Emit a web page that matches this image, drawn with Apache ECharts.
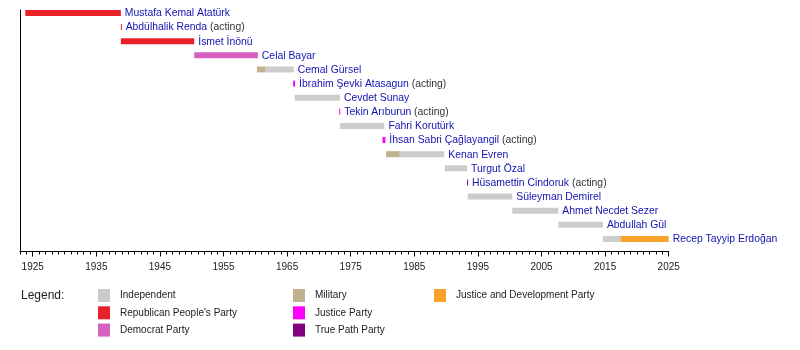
<!DOCTYPE html>
<html>
<head>
<meta charset="utf-8">
<script src="https://cdn.jsdelivr.net/npm/echarts@6/dist/echarts.min.js"></script>
<style>
html,body{margin:0;padding:0;background:#fff;}
#chart{width:800px;height:350px;}
</style>
</head>
<body>
<div id="chart"></div>
<script>
// ---- data ----
const presidents = ["Mustafa Kemal Atatürk","Abdülhalik Renda","İsmet İnönü","Celal Bayar","Cemal Gürsel","İbrahim Şevki Atasagun","Cevdet Sunay","Tekin Arıburun","Fahri Korutürk","İhsan Sabri Çağlayangil","Kenan Evren","Turgut Özal","Hüsamettin Cindoruk","Süleyman Demirel","Ahmet Necdet Sezer","Abdullah Gül","Recep Tayyip Erdoğan"];
const acting = [0,1,0,0,0,1,0,1,0,1,0,0,1,0,0,0,0];
// [row, start year, end year]
const independent = [[4,1961.6,1966.05],[6,1966.2,1973.3],[8,1973.3,1980.3],[10,1982.7,1989.7],[11,1989.8,1993.3],[13,1993.4,2000.4],[14,2000.4,2007.65],[15,2007.65,2014.65],[16,2014.65,2017.4]];
const republican = [[0,1923.83,1938.86],[1,1938.86,1938.98],[2,1938.86,1950.4]];
const democrat = [[3,1950.4,1960.4]];
const military = [[4,1960.25,1961.6],[10,1980.55,1982.7]];
const justice = [[5,1965.95,1966.25],[7,1973.2,1973.35],[9,1980.0,1980.45]];
const truePath = [[12,1993.3,1993.45]];
const akp = [[16,2017.4,2025]];
const partyNames = ["Independent","Republican People's Party","Democrat Party","Military","Justice Party","True Path Party","Justice and Development Party"];
const partyColors = ["#cccccc","#ea2128","#d660bf","#c2b18f","#ff00ff","#800080","#f9a22c"];
const partyData = [independent, republican, democrat, military, justice, truePath, akp];
const axisMin = 1923, axisMax = 2025;
const tickStart = 1925, tickStep = 10;

const FONT = "'Liberation Sans', Arial, sans-serif";
const NAME_SIZE = 10.4;

function barItem(params, api){
  const row = api.value(0);
  const p1 = api.coord([api.value(1), row]);
  const p2 = api.coord([api.value(2), row]);
  const h = 6;
  return {type:'rect', shape:{x:p1[0], y:p1[1]-h/2, width:Math.max(p2[0]-p1[0],1), height:h},
          style:{fill:api.visual('color')}};
}

const rowEnd = presidents.map((_, i) => {
  let m = -Infinity;
  partyData.forEach(arr => arr.forEach(d => { if (d[0] === i && d[2] > m) m = d[2]; }));
  return [i, m];
});

const series = partyNames.map((n, k) => ({
  name: n, type:'custom', xAxisIndex:0, yAxisIndex:0, clip:false,
  itemStyle:{color: partyColors[k]},
  renderItem: barItem, data: partyData[k]
}));
series.push({
  name:'labels', type:'custom', xAxisIndex:0, yAxisIndex:0, clip:false, silent:true,
  renderItem: function(params, api){
    const i = api.value(0);
    const p = api.coord([api.value(1), i]);
    const txt = '{n|' + presidents[i] + '}' + (acting[i] ? '{a| (acting)}' : '');
    return {type:'text', x:p[0]+4, y:p[1]+0.5,
      style:{text:txt, fontSize:NAME_SIZE, fontFamily:FONT, verticalAlign:'middle', align:'left',
        rich:{n:{fill:'#1212b0', fontSize:NAME_SIZE, fontFamily:FONT}, a:{fill:'#333333', fontSize:NAME_SIZE, fontFamily:FONT}}}};
  },
  data: rowEnd
});

const pxPerYear = 648.7/(axisMax-axisMin);
const legendCommon = {orient:'vertical', icon:'rect', itemWidth:12, itemHeight:13, itemGap:4.3,
  selectedMode:false, padding:0, textStyle:{fontSize:10, color:'#222', fontFamily:FONT, padding:[0,0,0,5]}};

const option = {
  animation:false,
  grid:[{left:20, top:10, width:648.7, height:241.5},
        {left:20+(tickStart-axisMin)*pxPerYear, top:10, width:648.7-(tickStart-axisMin)*pxPerYear, height:241.5}],
  xAxis:[
    {gridIndex:0, type:'value', min:axisMin, max:axisMax, interval:1,
     axisLine:{onZero:false, lineStyle:{color:'#000', width:1}},
     axisTick:{length:3, lineStyle:{color:'#000'}}, axisLabel:{show:false}, splitLine:{show:false}},
    {gridIndex:1, type:'value', min:tickStart, max:axisMax, interval:tickStep,
     axisLine:{show:false}, axisTick:{length:5, lineStyle:{color:'#000'}},
     axisLabel:{fontSize:10, color:'#222', margin:11, fontFamily:FONT, formatter: v => String(v)}, splitLine:{show:false}}
  ],
  yAxis:[
    {gridIndex:0, type:'value', inverse:true, min:-0.21, max:16.89,
     axisLine:{show:true, onZero:false, lineStyle:{color:'#000', width:1}},
     axisTick:{show:false}, axisLabel:{show:false}, splitLine:{show:false}},
    {gridIndex:1, type:'value', show:false}
  ],
  legend:[
    Object.assign({left:98, top:289, data:partyNames.slice(0,3)}, legendCommon),
    Object.assign({left:293, top:289, data:partyNames.slice(3,6)}, legendCommon),
    Object.assign({left:434, top:289, data:partyNames.slice(6)}, legendCommon)
  ],
  graphic:[{type:'text', left:21, top:290, style:{text:'Legend:', fontSize:12, fontFamily:FONT, fill:'#222'}}],
  series: series
};
const chart = echarts.init(document.getElementById('chart'), null, {renderer:'canvas'});
chart.setOption(option);
</script>
</body>
</html>
